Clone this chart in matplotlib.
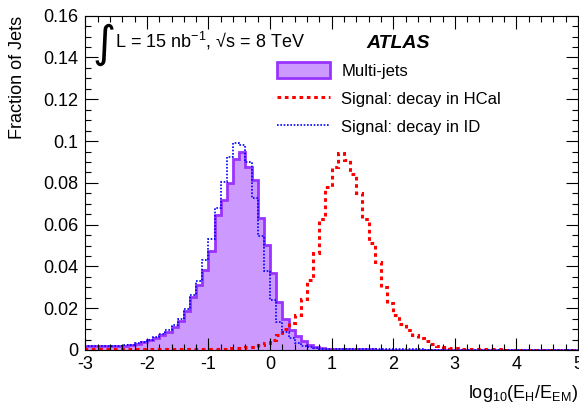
import numpy as np
import matplotlib
matplotlib.use("Agg")
import matplotlib.pyplot as plt
from matplotlib.patches import Patch
from matplotlib.lines import Line2D
from matplotlib.ticker import MultipleLocator, FormatStrFormatter

plt.rcParams["font.family"] = ["Liberation Sans", "DejaVu Sans"]
plt.rcParams["mathtext.fontset"] = "custom"
plt.rcParams["mathtext.rm"] = "Liberation Sans"
plt.rcParams["mathtext.it"] = "Liberation Sans:italic"
plt.rcParams["axes.unicode_minus"] = False

# bins of log10(EH/EEM), width 0.1 from -3 to 5
bin_edges = np.round(np.arange(-3.0, 5.0001, 0.1), 1)

# fraction of jets per bin
multijets = [
    0.0018, 0.0018, 0.0019, 0.0018, 0.0019, 0.0020, 0.0021, 0.0025, 0.0031, 0.0038,
    0.0047, 0.0058, 0.0070, 0.0088, 0.0112, 0.0140, 0.0187, 0.0252, 0.0312, 0.0383,
    0.0475, 0.0647, 0.0718, 0.0800, 0.0915, 0.0950, 0.0875, 0.0814, 0.0634, 0.0503,
    0.0367, 0.0231, 0.0146, 0.0098, 0.0066, 0.0042, 0.0025, 0.0015, 0.0009, 0.0006,
    0.0005, 0.0004, 0.0004, 0.0003, 0.0003, 0.0003, 0.0003, 0.0002, 0.0002, 0.0002,
    0.0002, 0.0002, 0.0002, 0.0002, 0.0002, 0.0002, 0.0002, 0.0002, 0.0002, 0.0002,
    0.0002, 0.0002, 0.0001, 0.0001, 0.0001, 0.0001, 0.0001, 0.0001, 0.0001, 0.0001,
    0.0001, 0.0001, 0.0001, 0.0001, 0.0001, 0.0001, 0.0001, 0.0001, 0.0001, 0.0001,
]
signal_hcal = [
    0.0004, 0.0004, 0.0004, 0.0004, 0.0004, 0.0004, 0.0004, 0.0004, 0.0004, 0.0004,
    0.0004, 0.0004, 0.0004, 0.0004, 0.0004, 0.0005, 0.0005, 0.0005, 0.0005, 0.0005,
    0.0006, 0.0006, 0.0007, 0.0008, 0.0009, 0.0010, 0.0012, 0.0016, 0.0024, 0.0035,
    0.0050, 0.0072, 0.0100, 0.0128, 0.0168, 0.0245, 0.0335, 0.0466, 0.0626, 0.0782,
    0.0875, 0.0945, 0.0907, 0.0843, 0.0753, 0.0626, 0.0511, 0.0423, 0.0302, 0.0227,
    0.0168, 0.0125, 0.0096, 0.0072, 0.0056, 0.0043, 0.0027, 0.0019, 0.0014, 0.0010,
    0.0008, 0.0006, 0.0005, 0.0004, 0.0004, 0.0003, 0.0003, 0.0003, 0.0002, 0.0002,
    0.0002, 0.0002, 0.0002, 0.0002, 0.0001, 0.0001, 0.0001, 0.0001, 0.0001, 0.0001,
]
signal_id = [
    0.0020, 0.0019, 0.0020, 0.0021, 0.0020, 0.0021, 0.0022, 0.0026, 0.0033, 0.0040,
    0.0050, 0.0062, 0.0075, 0.0095, 0.0118, 0.0148, 0.0195, 0.0265, 0.0328, 0.0430,
    0.0530, 0.0680, 0.0806, 0.0926, 0.0990, 0.0980, 0.0900, 0.0726, 0.0546, 0.0380,
    0.0240, 0.0136, 0.0088, 0.0056, 0.0032, 0.0019, 0.0012, 0.0008, 0.0005, 0.0004,
    0.0003, 0.0003, 0.0003, 0.0003, 0.0003, 0.0003, 0.0003, 0.0003, 0.0003, 0.0003,
    0.0003, 0.0003, 0.0003, 0.0003, 0.0003, 0.0002, 0.0002, 0.0002, 0.0002, 0.0002,
    0.0002, 0.0002, 0.0002, 0.0002, 0.0002, 0.0002, 0.0002, 0.0002, 0.0002, 0.0002,
    0.0002, 0.0002, 0.0002, 0.0002, 0.0002, 0.0002, 0.0002, 0.0002, 0.0002, 0.0002,
]

labels = ["Multi-jets", "Signal: decay in HCal", "Signal: decay in ID"]

fig = plt.figure(figsize=(5.79, 4.08), dpi=100)
ax = fig.add_axes([85.3 / 579, 1 - 350 / 408, 492.7 / 579, 334.3 / 408])

ax.stairs(multijets, bin_edges, fill=True, facecolor="#cc99ff",
          edgecolor="#9933ff", linewidth=2)
ax.stairs(signal_hcal, bin_edges, color="red", linestyle=(0, (1.2, 1.2)), linewidth=2.2)
ax.stairs(signal_id, bin_edges, color="blue", linestyle=(0, (1, 1)), linewidth=1.2)

ax.set_xlim(-3, 5)
ax.set_ylim(0, 0.16)
ax.xaxis.set_major_locator(MultipleLocator(1))
ax.xaxis.set_minor_locator(MultipleLocator(0.2))
ax.yaxis.set_major_locator(MultipleLocator(0.02))
ax.yaxis.set_minor_locator(MultipleLocator(0.005))
ax.yaxis.set_major_formatter(FormatStrFormatter("%g"))
ax.tick_params(which="both", direction="in", top=True, right=True, labelsize=13, width=0.8)
ax.tick_params(which="major", length=9)
ax.tick_params(which="minor", length=4.5)
ax.tick_params(axis="y", pad=5)
ax.tick_params(axis="x", pad=4)
for s in ax.spines.values():
    s.set_linewidth(0.8)

ax.set_ylabel("Fraction of Jets", fontsize=13, loc="top")
ax.yaxis.set_label_coords(-0.12, 1.0)
ax.set_xlabel(r"log$_{10}$(E$_{\mathrm{H}}$/E$_{\mathrm{EM}}$)", fontsize=13, loc="right")
ax.xaxis.set_label_coords(1.0, -0.1)

# luminosity / energy label
fig.text(92 / 579, 1 - 45 / 408, "\u222b", fontsize=32, va="center", ha="left",
         family=["DejaVu Sans"])
fig.text(115 / 579, 1 - 48 / 408, "L = 15 nb$^{-1}$, \u221as = 8 TeV", fontsize=13,
         va="baseline", ha="left")
fig.text(366 / 579, 1 - 48 / 408, "ATLAS", fontsize=14, fontweight="bold",
         fontstyle="italic", va="baseline", ha="left")

handles = [
    Patch(facecolor="#cc99ff", edgecolor="#9933ff", linewidth=2),
    Line2D([], [], color="red", linestyle=(0, (1.2, 1.2)), linewidth=2.2),
    Line2D([], [], color="blue", linestyle=(0, (1, 1)), linewidth=1.2),
]
ax.legend(handles, labels, loc="upper left", bbox_to_anchor=(277 / 579, 1 - 62 / 408),
          bbox_transform=fig.transFigure, frameon=False, fontsize=12,
          handlelength=3.2, handleheight=1.1, handletextpad=0.65,
          labelspacing=0.7, borderpad=0, borderaxespad=0)

fig.savefig("out.png", dpi=100)
